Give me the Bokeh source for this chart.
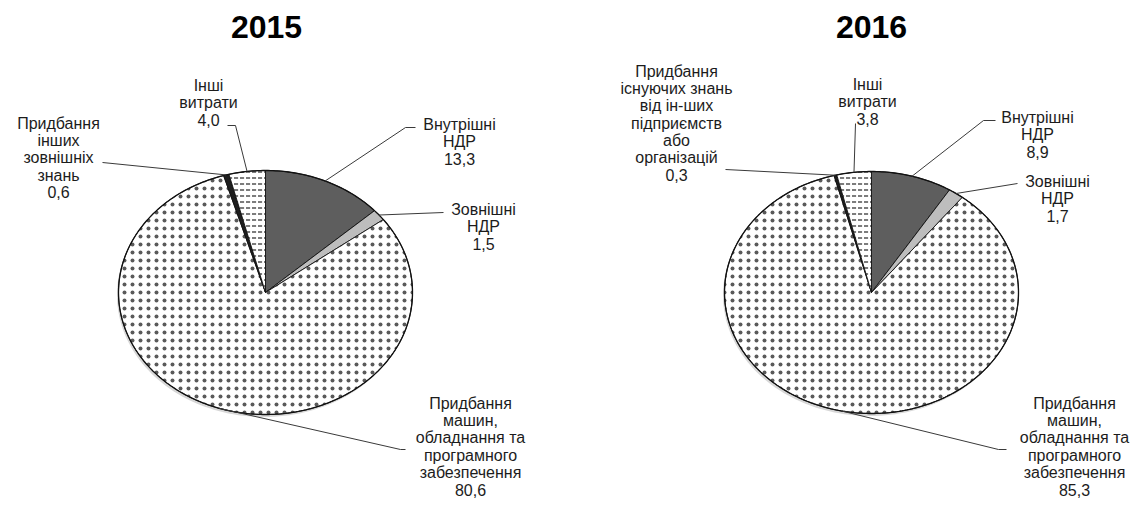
import math
from bokeh.plotting import figure
from bokeh.models import Range1d
from bokeh.embed import file_html
from bokeh.resources import INLINE
from bokeh.core.properties import value

# ---------------- data ----------------
years = ["2015", "2016"]
values_2015 = [13.3, 1.5, 80.6, 0.6, 4.0]
values_2016 = [8.9, 1.7, 85.3, 0.3, 3.8]
names_2015 = [
    ["Внутрішні", "НДР"],
    ["Зовнішні", "НДР"],
    ["Придбання", "машин,", "обладнання та", "програмного", "забезпечення"],
    ["Придбання", "інших", "зовнішніх", "знань"],
    ["Інші", "витрати"],
]
names_2016 = [
    ["Внутрішні", "НДР"],
    ["Зовнішні", "НДР"],
    ["Придбання", "машин,", "обладнання та", "програмного", "забезпечення"],
    ["Придбання", "існуючих знань", "від ін-ших", "підприємств", "або", "організацій"],
    ["Інші", "витрати"],
]

# ---------------- styles ----------------
slice_fill = ["#5e5e5e", "#bdbdbd", "#ffffff", "#1e1e1e", "#ffffff"]
slice_hatch = [None, None, ".", None, '"']
slice_hatch_scale = [8, 8, 8, 8, 6]
slice_hatch_color = ["#222222", "#222222", "#5a5a5a", "#222222", "#222222"]

# layout (picture pixels): pie centre, radii, label centre x, first-line y, leader path near label
layouts = [
    dict(cx=265, cy=292, rx=147, ry=122, title=(266, 26),
         labels=[(459, 124), (483, 209), (470, 403), (58, 123), (208, 85)],
         leaders=[[(405, 127), (415, 127)], [(443, 212)], [(400, 449), (405, 449)],
                  [(102, 162)], [(235, 125), (227, 125)]]),
    dict(cx=871, cy=292, rx=147, ry=121, title=(871, 26),
         labels=[(1037, 117), (1057, 181), (1074, 403), (676, 71), (867, 84)],
         leaders=[[(983, 120), (995, 120)], [(1017, 183)], [(998, 449), (1006, 449)],
                  [(725, 169)], [(855, 123)]]),
]
LINE_H = 17.2

p = figure(width=1132, height=502, x_range=Range1d(0, 1132), y_range=Range1d(502, 0),
           output_backend="svg", toolbar_location=None, min_border=0,
           x_axis_location=None, y_axis_location=None)
p.grid.visible = False
p.outline_line_color = None
p.background_fill_color = "white"

font = value("Liberation Sans")

for year, vals, names, lay in zip(years, [values_2015, values_2016], [names_2015, names_2016], layouts):
    cx, cy, rx, ry = lay["cx"], lay["cy"], lay["rx"], lay["ry"]
    total = sum(vals)

    def pt(theta, k=1.0):
        return cx + k * rx * math.sin(theta), cy - k * ry * math.cos(theta)

    # soft shadow
    sh = [pt(2 * math.pi * i / 180) for i in range(181)]
    p.patch([x - 1.5 for x, _ in sh], [y + 2.5 for _, y in sh], fill_color="#9a9a9a",
            fill_alpha=0.4, line_color=None)

    cum = 0.0
    mids = []
    for i, v in enumerate(vals):
        a0 = 2 * math.pi * cum / total
        a1 = 2 * math.pi * (cum + v) / total
        n = max(2, int(abs(a1 - a0) / (2 * math.pi) * 360))
        xs, ys = [cx], [cy]
        for k in range(n + 1):
            x, y = pt(a0 + (a1 - a0) * k / n)
            xs.append(x)
            ys.append(y)
        kw = dict(fill_color=slice_fill[i], line_color="#111111", line_width=0.9)
        if slice_hatch[i]:
            kw.update(hatch_pattern=slice_hatch[i], hatch_color=slice_hatch_color[i],
                      hatch_scale=slice_hatch_scale[i], hatch_weight=1.2)
        p.patch(xs, ys, **kw)
        mids.append((a0 + a1) / 2)
        cum += v

    # outer edge
    edge = [pt(2 * math.pi * i / 360) for i in range(361)]
    p.line([x for x, _ in edge], [y for _, y in edge], line_color="#111111", line_width=1.3)

    # leader lines
    for i in range(len(vals)):
        ax, ay = pt(mids[i])
        path = [(ax, ay)] + lay["leaders"][i]
        p.line([q[0] for q in path], [q[1] for q in path], line_color="#3a3a3a", line_width=1)

    # labels
    tx, ty, tt = [], [], []
    for i, v in enumerate(vals):
        lines = names[i] + [f"{v:.1f}".replace(".", ",")]
        lx, ly = lay["labels"][i]
        for j, s in enumerate(lines):
            tx.append(lx)
            ty.append(ly + j * LINE_H)
            tt.append(s)
    p.text(x=tx, y=ty, text=tt, text_align="center", text_baseline="middle",
           text_font=font, text_font_size="16px", text_color="#1c1c1c")

    # title
    p.text(x=[lay["title"][0]], y=[lay["title"][1]], text=[year], text_align="center",
           text_baseline="middle", text_font=font, text_font_size="32px",
           text_font_style="bold", text_color="#000000")

open("out.html", "w").write(file_html(p, INLINE))
